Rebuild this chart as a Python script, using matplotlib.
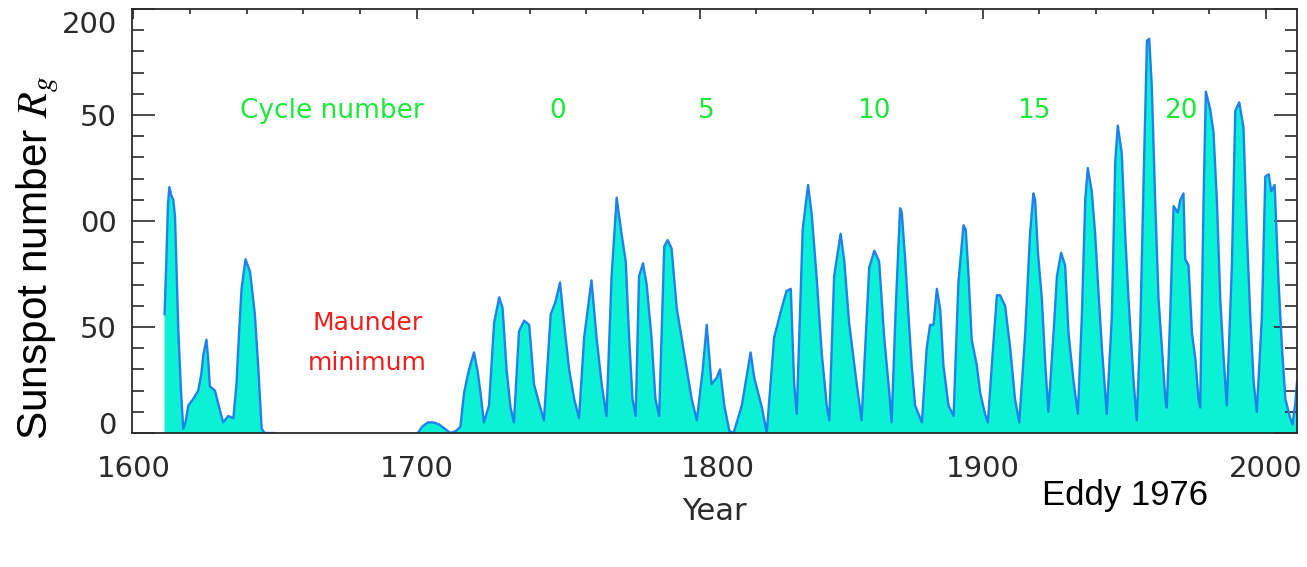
import numpy as np
import matplotlib
matplotlib.use("Agg")
import matplotlib.pyplot as plt
import matplotlib.transforms as mtransforms
from matplotlib.ticker import MultipleLocator

# group sunspot number (year, value); nan = no data (Maunder gap)
years = [
    1611.0, 1611.6, 1612.2, 1612.7, 1613.4, 1614.1, 1614.7, 1615.3, 1615.9, 1616.8,
    1617.6, 1618.4, 1619.4, 1621.1, 1622.9, 1624.0, 1624.7, 1625.8, 1626.4, 1627.0,
    1628.8, 1630.5, 1631.7, 1633.5, 1635.3, 1636.4, 1637.3, 1638.2, 1639.6, 1641.2,
    1642.9, 1644.1, 1645.3, 1646.4, 1649.7, 1650.5,
    1700.5, 1702.0, 1704.0, 1706.0, 1708.0, 1710.0, 1712.0, 1714.0, 1715.5, 1716.8,
    1718.2, 1719.4, 1720.3, 1721.6, 1722.6, 1723.8, 1725.6, 1727.4, 1729.2, 1730.4,
    1731.8, 1733.2, 1734.4, 1736.2, 1738.0, 1739.8, 1741.5, 1743.3, 1745.0, 1747.4,
    1749.1, 1750.7, 1752.1, 1753.9, 1755.7, 1757.4, 1759.2, 1761.8, 1763.6, 1765.4,
    1767.1, 1768.9, 1770.7, 1772.4, 1773.9, 1775.1, 1776.3, 1777.4, 1778.6, 1780.0,
    1781.3, 1783.0, 1784.4, 1785.7, 1787.5, 1788.7, 1790.1, 1791.9, 1794.5, 1797.2,
    1799.0, 1801.1, 1802.5, 1804.2, 1806.0, 1807.2, 1808.7, 1810.5, 1812.0, 1814.9,
    1818.0, 1819.3, 1822.0, 1823.7, 1826.3, 1829.0, 1830.7, 1832.2, 1833.4, 1834.3,
    1836.4, 1838.3, 1839.6, 1841.3, 1843.1, 1844.9, 1845.8, 1847.5, 1849.8, 1851.1,
    1852.8, 1855.5, 1857.2, 1859.9, 1861.7, 1863.4, 1865.2, 1867.0, 1867.8, 1869.3,
    1870.8, 1871.4, 1872.6, 1873.8, 1874.9, 1876.1, 1878.5, 1880.2, 1881.4, 1882.6,
    1883.8, 1885.0, 1886.1, 1887.9, 1889.7, 1891.4, 1893.2, 1894.0, 1895.0, 1896.1,
    1897.9, 1899.1, 1900.8, 1901.8, 1903.2, 1905.0, 1906.1, 1907.9, 1909.7, 1911.4,
    1912.9, 1915.0, 1916.7, 1917.9, 1918.5, 1919.5, 1920.9, 1922.1, 1923.2, 1925.0,
    1926.2, 1927.7, 1929.1, 1930.3, 1932.1, 1933.6, 1935.0, 1936.2, 1937.1, 1938.5,
    1939.7, 1940.9, 1942.1, 1943.8, 1945.6, 1946.8, 1947.7, 1949.1, 1950.3, 1951.5,
    1953.3, 1954.4, 1955.6, 1956.8, 1958.0, 1958.8, 1959.7, 1960.9, 1962.1, 1963.3,
    1964.5, 1965.0, 1966.2, 1967.4, 1968.9, 1969.8, 1970.9, 1971.5, 1972.7, 1973.9,
    1975.1, 1976.2, 1976.8, 1978.0, 1978.8, 1980.3, 1981.5, 1982.7, 1983.9, 1985.1,
    1986.2, 1988.0, 1989.2, 1990.6, 1992.1, 1993.3, 1994.5, 1995.7, 1996.8, 1998.6,
    1999.8, 2001.0, 2001.9, 2003.1, 2004.5, 2005.7, 2006.9, 2008.6, 2009.4, 2010.4,
    2011.0,
]
ssn = [
    56, 80, 108, 116, 112, 110, 102, 75, 47, 20,
    2, 5, 13, 16, 20, 28, 37, 44, 35, 22,
    20, 11, 5, 8, 7, 23, 47, 68, 82, 76,
    56, 31, 2, 0, 0, np.nan,
    0, 3, 5, 5, 4, 2, 0, 1, 3, 19,
    28, 34, 38, 29, 19, 5, 13, 52, 64, 59,
    30, 12, 5, 48, 53, 51, 23, 14, 6, 56,
    62, 71, 52, 30, 16, 7, 45, 72, 45, 23,
    8, 74, 111, 94, 81, 45, 16, 8, 74, 80,
    70, 45, 16, 8, 88, 91, 87, 59, 38, 16,
    6, 30, 51, 23, 26, 30, 13, 1, 0, 13,
    38, 26, 12, 0, 45, 59, 67, 68, 23, 9,
    96, 117, 103, 74, 38, 13, 6, 74, 94, 81,
    52, 23, 6, 78, 86, 81, 45, 19, 5, 60,
    106, 104, 82, 55, 32, 13, 5, 40, 51, 51,
    68, 58, 32, 13, 8, 71, 98, 96, 74, 44,
    32, 19, 9, 5, 32, 65, 65, 60, 40, 16,
    5, 47, 94, 113, 110, 85, 63, 32, 10, 47,
    74, 85, 79, 47, 24, 9, 55, 110, 125, 114,
    94, 66, 40, 9, 55, 128, 145, 132, 94, 63,
    24, 6, 47, 118, 185, 186, 164, 110, 63, 40,
    16, 12, 55, 107, 104, 110, 113, 82, 79, 47,
    35, 16, 12, 110, 161, 153, 142, 110, 63, 35,
    13, 79, 152, 156, 144, 94, 55, 24, 10, 55,
    121, 122, 114, 117, 71, 40, 16, 7, 4, 14,
    24,
]

x_ticks = [1600, 1700, 1800, 1900, 2000]
y_ticks = [0, 50, 100, 150, 200]
y_tick_labels = ["0", "50", "00", "50", "200"]   # as printed (cropped) in the original

cycle_numbers = ["0", "5", "10", "15", "20"]
cycle_years = [1750.0, 1802.5, 1861.5, 1918.0, 1970.0]

fill_color = "#0CF0D6"
line_color = "#1E82EC"
green = "#1EE63C"
red = "#F01E1E"
ink = "#2a2a2a"

plt.rcParams["mathtext.fontset"] = "stix"

W, H = 1307, 567
fig = plt.figure(figsize=(W / 100, H / 100), dpi=100)
ax = fig.add_axes([132 / W, 1 - 433 / H, (1297 - 132) / W, (433 - 9) / H])

ax.fill_between(years, 0, ssn, color=fill_color, linewidth=0, zorder=1)
ax.plot(years, ssn, color=line_color, lw=1.7, zorder=2)

ax.set_xlim(1599.5, 2011.0)
ax.set_ylim(0, 200)
ax.set_xticks(x_ticks)
ax.set_yticks(y_ticks, labels=y_tick_labels)
ax.xaxis.set_minor_locator(MultipleLocator(20))
ax.yaxis.set_minor_locator(MultipleLocator(10))

ax.tick_params(axis="x", which="both", direction="in", top=True, bottom=False,
               colors=ink, width=1.2)
ax.tick_params(axis="x", which="major", length=7, pad=16, labelsize=21)
ax.tick_params(axis="x", which="minor", length=3.5)
ax.tick_params(axis="y", which="both", direction="in", left=True, right=True,
               colors=ink, width=1.2)
ax.tick_params(axis="y", which="major", length=16.5, pad=11, labelsize=21)
ax.tick_params(axis="y", which="minor", length=8.5)
for s in ax.spines.values():
    s.set_color(ink)
    s.set_linewidth(1.3)

# label offsets seen in the original
def shift(label, dx_px, dy_px):
    label.set_transform(label.get_transform() +
                        mtransforms.ScaledTranslation(dx_px / 100, dy_px / 100, fig.dpi_scale_trans))

ylabs = ax.get_yticklabels()
shift(ylabs[0], 0, 10)
shift(ylabs[-1], 0, -13)
xlabs = ax.get_xticklabels()
shift(xlabs[2], 18, 0)

ax.text(1670, 152, "Cycle number", color=green, fontsize=19, ha="center", va="center")
for lab, yr in zip(cycle_numbers, cycle_years):
    ax.text(yr, 152, lab, color=green, fontsize=19, ha="center", va="center")

ax.text(1682.7, 52, "Maunder", color=red, fontsize=18, ha="center", va="center")
ax.text(1682.7, 33, "minimum", color=red, fontsize=18, ha="center", va="center")

fig.text(714 / W, 1 - 511 / H, "Year", fontsize=22, color=ink, ha="center", va="center")
fig.text(1125 / W, 1 - 495 / H, "Eddy 1976", fontsize=25, color="black",
         family=["Liberation Sans", "DejaVu Sans"], ha="center", va="center")

fig.text(38 / W, 1 - 258 / H, "Sunspot number $R_g$", rotation=90, fontsize=30.5,
         family=["Liberation Sans", "DejaVu Sans"], color="black", ha="center", va="center")

fig.savefig("out.png", dpi=100)
